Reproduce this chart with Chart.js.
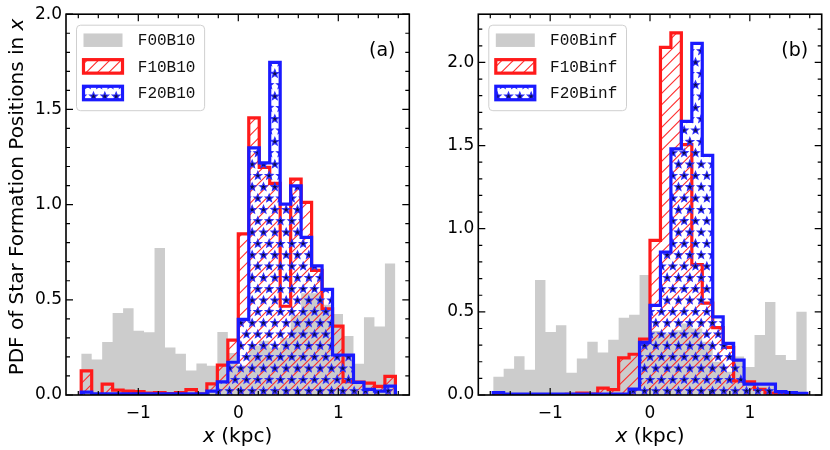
<!DOCTYPE html>
<html><head><meta charset="utf-8">
<script src="https://cdn.jsdelivr.net/npm/chart.js@4.4.1/dist/chart.umd.min.js"></script>
<style>
html,body{margin:0;padding:0;background:#fff;}
#wrap{position:relative;width:830px;height:450px;overflow:hidden;}
canvas{position:absolute;top:0;}
</style></head><body>
<div id="wrap">
<canvas id="ca" width="415" height="450" style="left:0px"></canvas>
<canvas id="cb" width="415" height="450" style="left:415px"></canvas>
</div>
<script>
// ---------- data ----------
const BIN_RANGE = [-1.5708, 1.5708];
const N_BINS = 30;
const X_TICKS = [-1, 0, 1];
const Y_TICKS = [0, 0.5, 1.0, 1.5, 2.0];
const LABELS_A = ['F00B10', 'F10B10', 'F20B10'];
const LABELS_B = ['F00Binf', 'F10Binf', 'F20Binf'];

const GRAY_A = [0.216,0.186,0.278,0.431,0.455,0.338,0.329,0.772,0.250,0.216,0.129,0.166,0.153,0.331,0.220,0.155,0.260,0.285,0.250,0.300,0.420,0.535,0.535,0.474,0.426,0.310,0.164,0.409,0.360,0.690];
const RED_A  = [0.127,0.000,0.057,0.026,0.020,0.018,0.010,0.013,0.008,0.013,0.028,0.005,0.058,0.157,0.288,0.846,1.455,1.195,1.112,0.466,1.134,1.012,0.655,0.452,0.362,0.070,0.068,0.062,0.045,0.098];
const BLUE_A = [0.015,0.006,0.006,0.006,0.006,0.006,0.006,0.006,0.006,0.006,0.006,0.006,0.020,0.069,0.172,0.397,1.298,1.219,1.747,1.003,1.098,0.828,0.678,0.555,0.210,0.210,0.066,0.030,0.020,0.047];

const GRAY_B = [0.109,0.158,0.233,0.152,0.691,0.379,0.419,0.134,0.219,0.320,0.255,0.332,0.464,0.482,0.721,0.385,0.370,0.390,0.430,0.400,0.320,0.200,0.140,0.231,0.168,0.361,0.559,0.241,0.211,0.501];
const RED_B  = [0.000,0.000,0.000,0.000,0.000,0.000,0.000,0.004,0.012,0.005,0.041,0.032,0.223,0.245,0.336,0.930,2.091,2.178,1.506,0.784,0.553,0.405,0.286,0.085,0.079,0.034,0.012,0.010,0.008,0.006];
const BLUE_B = [0.014,0.005,0.005,0.005,0.005,0.005,0.005,0.005,0.005,0.005,0.005,0.005,0.005,0.035,0.316,0.539,0.860,1.480,1.645,2.115,1.441,0.470,0.310,0.210,0.065,0.065,0.065,0.020,0.014,0.010];

// ---------- helpers ----------
const EDGES = Array.from({length: N_BINS + 1}, (_, k) => BIN_RANGE[0] + k * (BIN_RANGE[1] - BIN_RANGE[0]) / N_BINS);

function stepPoints(vals) {
  const pts = [{x: EDGES[0], y: 0}];
  vals.forEach((v, i) => pts.push({x: EDGES[i], y: v}));
  pts.push({x: EDGES[N_BINS], y: vals[N_BINS - 1]});
  pts.push({x: EDGES[N_BINS], y: 0});
  return pts;
}

function makeHatch() {
  const S = 34, c = document.createElement('canvas');
  c.width = S; c.height = S;
  const g = c.getContext('2d');
  g.strokeStyle = '#ff2a2a'; g.lineWidth = 1.1;
  for (let k = 0; k <= 6; k++) {
    const cc = k * S / 3;
    g.beginPath(); g.moveTo(cc + 2, -2); g.lineTo(cc - S - 2, S + 2); g.stroke();
  }
  return g.createPattern(c, 'repeat');
}
function starPath(g, cx, cy, R, r) {
  g.beginPath();
  for (let i = 0; i < 10; i++) {
    const a = -Math.PI / 2 + i * Math.PI / 5;
    const rr = i % 2 ? r : R;
    const px = cx + rr * Math.cos(a), py = cy + rr * Math.sin(a);
    if (i === 0) g.moveTo(px, py); else g.lineTo(px, py);
  }
  g.closePath();
}
function makeStars() {
  const S = 68, n = 6, d = S / n, c = document.createElement('canvas');
  c.width = S; c.height = S;
  const g = c.getContext('2d');
  g.fillStyle = '#0c0c50'; g.strokeStyle = '#2f2fff'; g.lineWidth = 1.1;
  for (let r = 0; r < n; r++) {
    const y = r * d + d / 2, off = (r % 2) ? d / 2 : 0;
    for (let col = -1; col <= n; col++) {
      const x = col * d + off + d / 4;
      starPath(g, x, y, 4.1, 1.8); g.fill(); g.stroke();
    }
  }
  return g.createPattern(c, 'repeat');
}

function fmtX(v) { return (v < 0 ? '\u2212' : '') + Math.abs(v); }

const FONT = '"DejaVu Sans", sans-serif';

function decorPlugin(cfg) {
  return {
    id: 'decor',
    afterDraw(chart) {
      const {ctx, chartArea: a, scales: {x, y}} = chart;
      ctx.save();
      // ticks (inward, all four sides)
      ctx.strokeStyle = '#000'; ctx.lineWidth = 1.2;
      const tick = (px, len, vertical) => {
        ctx.beginPath();
        if (vertical) {
          ctx.moveTo(px, a.bottom); ctx.lineTo(px, a.bottom - len);
          ctx.moveTo(px, a.top); ctx.lineTo(px, a.top + len);
        } else {
          ctx.moveTo(a.left, px); ctx.lineTo(a.left + len, px);
          ctx.moveTo(a.right, px); ctx.lineTo(a.right - len, px);
        }
        ctx.stroke();
      };
      for (let k = -8; k <= 8; k++) {
        const v = k * 0.2;
        if (v < x.min || v > x.max) continue;
        const major = X_TICKS.some(t => Math.abs(t - v) < 1e-9);
        tick(x.getPixelForValue(v), major ? 7 : 4, true);
      }
      for (let k = 0; k <= 30; k++) {
        const v = k * 0.1;
        if (v > y.max + 1e-9) break;
        const major = Y_TICKS.some(t => Math.abs(t - v) < 1e-9);
        tick(y.getPixelForValue(v), major ? 7 : 4, false);
      }
      // frame
      ctx.lineWidth = 1.6;
      ctx.strokeRect(a.left, a.top, a.right - a.left, a.bottom - a.top);

      // panel label
      ctx.fillStyle = '#000';
      ctx.font = '19px ' + FONT;
      ctx.textAlign = 'center'; ctx.textBaseline = 'middle';
      ctx.fillText(cfg.tag, a.right - 27, a.top + 37);

      // legend
      const bx = a.left + 10.5, by = a.top + 11;
      ctx.font = '16px "Liberation Mono", monospace';
      const tw = Math.max(...cfg.labels.map(l => ctx.measureText(l).width));
      const bw = 61.5 + tw + 9, bh = 85.5;
      ctx.beginPath();
      ctx.roundRect(bx, by, bw, bh, 4);
      ctx.fillStyle = 'rgba(255,255,255,0.85)'; ctx.fill();
      ctx.strokeStyle = '#cfcfcf'; ctx.lineWidth = 1; ctx.stroke();
      const rows = [15, 41.2, 67.8];
      const fills = [
        {fill: '#cccccc', stroke: null},
        {fill: cfg.hatch, stroke: '#ff1a1a'},
        {fill: cfg.stars, stroke: '#1a1aff'}
      ];
      rows.forEach((dy, i) => {
        const cy = by + dy, px = bx + 7, pw = 39, ph = 13.5;
        ctx.fillStyle = '#ffffff';
        if (fills[i].stroke) ctx.fillRect(px, cy - ph / 2, pw, ph);
        ctx.fillStyle = fills[i].fill;
        ctx.fillRect(px, cy - ph / 2, pw, ph);
        if (fills[i].stroke) {
          ctx.strokeStyle = fills[i].stroke; ctx.lineWidth = 3.2;
          ctx.strokeRect(px, cy - ph / 2, pw, ph);
        }
        ctx.fillStyle = '#111';
        ctx.textAlign = 'left'; ctx.textBaseline = 'middle';
        ctx.fillText(cfg.labels[i], bx + 61.3, cy + 1);
      });

      // x-axis title
      ctx.fillStyle = '#000';
      ctx.textBaseline = 'middle'; ctx.textAlign = 'left';
      const fi = 'italic 20px ' + FONT, fn = '20px ' + FONT;
      ctx.font = fi; const wx = ctx.measureText('x').width;
      ctx.font = fn; const wr = ctx.measureText(' (kpc)').width;
      const cx = (a.left + a.right) / 2, sx = cx - (wx + wr) / 2;
      ctx.font = fi; ctx.fillText('x', sx, 437);
      ctx.font = fn; ctx.fillText(' (kpc)', sx + wx, 437);

      // y-axis title
      if (cfg.yTitle) {
        const t1 = 'PDF of Star Formation Positions in ';
        ctx.font = fn; const w1 = ctx.measureText(t1).width;
        ctx.font = fi; const w2 = ctx.measureText('x').width;
        ctx.translate(18, 197); ctx.rotate(-Math.PI / 2);
        const s0 = -(w1 + w2) / 2;
        ctx.font = fn; ctx.fillText(t1, s0, 0);
        ctx.font = fi; ctx.fillText('x', s0 + w1, 0);
      }
      ctx.restore();
    }
  };
}

function buildChart(id, gray, red, blue, xRange, yMax, yWidth, padRight, tag, labels, yTitle) {
  const canvas = document.getElementById(id);
  const hatch = makeHatch(), stars = makeStars();
  return new Chart(canvas, {
    type: 'line',
    data: {
      datasets: [
        {label: labels[2], data: stepPoints(blue), order: 1, stepped: 'before', fill: 'origin',
         backgroundColor: stars, borderColor: '#1a1aff', borderWidth: 3.2, pointRadius: 0,
         borderJoinStyle: 'miter', borderCapStyle: 'butt'},
        {label: labels[1], data: stepPoints(red), order: 2, stepped: 'before', fill: 'origin',
         backgroundColor: hatch, borderColor: '#ff1a1a', borderWidth: 3.2, pointRadius: 0,
         borderJoinStyle: 'miter', borderCapStyle: 'butt'},
        {label: labels[0], data: stepPoints(gray), order: 3, stepped: 'before', fill: 'origin',
         backgroundColor: '#cccccc', borderColor: 'rgba(0,0,0,0)', borderWidth: 0, pointRadius: 0}
      ]
    },
    options: {
      responsive: false, animation: false,
      layout: {padding: {top: 7.3, right: padRight, left: 0, bottom: 0}},
      plugins: {legend: {display: false}, tooltip: {enabled: false}},
      scales: {
        x: {
          type: 'linear', min: xRange[0], max: xRange[1],
          grid: {display: false, drawTicks: false}, border: {display: false},
          afterBuildTicks: s => { s.ticks = X_TICKS.map(v => ({value: v})); },
          afterFit: s => { s.height = 55; },
          ticks: {font: {family: 'DejaVu Sans', size: 17}, color: '#000', padding: 8, maxRotation: 0,
                  callback: v => fmtX(v)}
        },
        y: {
          type: 'linear', min: 0, max: yMax,
          grid: {display: false, drawTicks: false}, border: {display: false},
          afterBuildTicks: s => { s.ticks = Y_TICKS.map(v => ({value: v})); },
          afterFit: s => { s.width = yWidth; },
          ticks: {font: {family: 'DejaVu Sans', size: 17}, color: '#000', padding: 4,
                  callback: v => Number(v).toFixed(1)}
        }
      }
    },
    plugins: [decorPlugin({tag, labels, yTitle, hatch, stars})]
  });
}

buildChart('ca', GRAY_A, RED_A, BLUE_A, [-1.723, 1.710], 2.0, 66, 5.7, '(a)', LABELS_A, true);
buildChart('cb', GRAY_B, RED_B, BLUE_B, [-1.720, 1.720], 2.29, 63.3, 8.3, '(b)', LABELS_B, false);
</script>
</body></html>
